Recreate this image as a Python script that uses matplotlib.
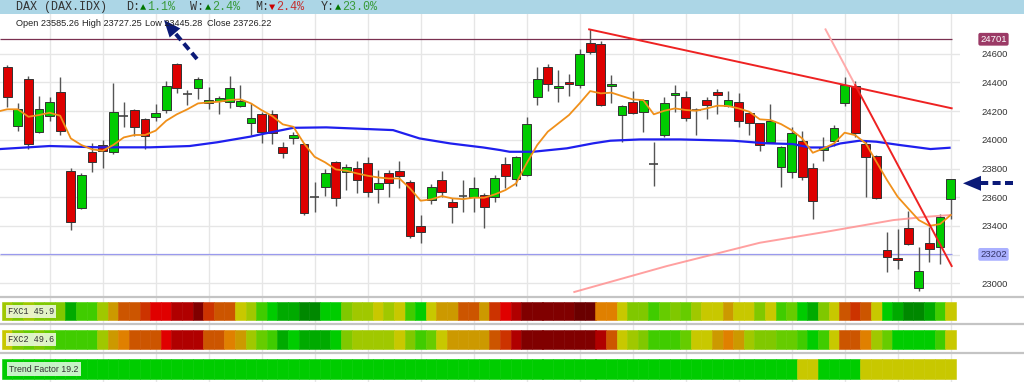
import matplotlib
matplotlib.use("Agg")
import matplotlib.pyplot as plt
from matplotlib.patches import Rectangle, Polygon
from matplotlib.lines import Line2D

# candles, last one from the OHLC line
opens = [24505, 24099, 24422, 24052, 24168, 24336, 23785, 23523, 23913, 23964,
         23913, 24166, 24208, 24145, 24161, 24208, 24528, 24317, 24364, 24259,
         24273, 24261, 24236, 24115, 24177, 24177, 23947, 24015, 23971, 23604,
         23669, 23847, 23773, 23801, 23836, 23655, 23766, 23782, 23708, 23401,
         23580, 23720, 23564, 23610, 23604, 23615, 23604, 23831, 23724, 23755,
         24296, 24505, 24361, 24401, 24382, 24672, 24665, 24375, 24173, 24261,
         24192, 23832, 24034, 24310, 24296, 24210, 24277, 24336, 24236, 24261,
         24185, 24115, 23987, 23808, 23778, 23992, 23801, 23929, 23994, 24254,
         24375, 23971, 23887, 23232, 23174, 23383, 22965, 23278, 23255, 23585.26]
closes = [24300, 24215, 23973, 24215, 24261, 24064, 23425, 23755, 23848, 23924,
          24192, 24166, 24087, 24029, 24185, 24377, 24359, 24317, 24422, 24278,
          24289, 24359, 24271, 24150, 24056, 24045, 23910, 24033, 23487, 23604,
          23766, 23597, 23808, 23720, 23634, 23696, 23701, 23750, 23332, 23360,
          23669, 23638, 23529, 23610, 23662, 23534, 23736, 23747, 23878, 24108,
          24422, 24387, 24377, 24387, 24596, 24614, 24243, 24389, 24236, 24185,
          24277, 23832, 24254, 24329, 24154, 24210, 24243, 24312, 24277, 24131,
          24120, 23964, 24133, 23947, 24045, 23738, 23576, 23947, 24084, 24382,
          24050, 23878, 23592, 23185, 23160, 23274, 23088, 23239, 23464, 23726.22]
highs = [24521, 24254, 24445, 24308, 24301, 24436, 23801, 23771, 23976, 23999,
         24394, 24266, 24217, 24154, 24250, 24412, 24533, 24347, 24440, 24366,
         24308, 24445, 24382, 24254, 24196, 24207, 23987, 24056, 23975, 23703,
         23794, 23852, 23829, 23854, 23882, 23789, 23789, 23852, 23720, 23476,
         23692, 23785, 23592, 23720, 23738, 23627, 23754, 23882, 23887, 24161,
         24505, 24528, 24487, 24456, 24633, 24770, 24689, 24452, 24243, 24340,
         24284, 23987, 24296, 24382, 24340, 24224, 24301, 24352, 24340, 24324,
         24196, 24120, 24249, 23957, 24091, 24061, 23836, 24017, 24103, 24440,
         24412, 23999, 23894, 23360, 23376, 23506, 23250, 23395, 23483, 23727.25]
lows = [24231, 24064, 23936, 24045, 24133, 24034, 23372, 23516, 23778, 23801,
        23899, 24092, 24027, 23936, 24133, 24185, 24324, 24243, 24285, 24213,
        24180, 24220, 24231, 24034, 23975, 23968, 23875, 23968, 23476, 23499,
        23608, 23541, 23650, 23627, 23599, 23557, 23599, 23662, 23313, 23278,
        23552, 23604, 23422, 23499, 23494, 23383, 23569, 23662, 23678, 23748,
        24243, 24340, 24266, 24305, 24359, 24598, 24238, 24259, 23987, 24180,
        24052, 23678, 24022, 24196, 24131, 24034, 24143, 24180, 24226, 24087,
        24034, 23922, 23975, 23669, 23731, 23720, 23446, 23852, 23957, 24235,
        24022, 23604, 23585, 23076, 23097, 23267, 22948, 23146, 23134, 23445.28]

# short moving average (orange), one value per candle, first at left edge
ma_short_start = 24201
ma_short = [24213, 24213, 24161, 24173, 24189, 24168, 24010, 23964, 23934, 23924,
            23964, 24017, 24034, 24034, 24064, 24133, 24178, 24213, 24254, 24261,
            24266, 24278, 24282, 24254, 24207, 24166, 24108, 24091, 23975, 23882,
            23843, 23794, 23785, 23766, 23750, 23738, 23731, 23731, 23662, 23576,
            23585, 23608, 23592, 23587, 23597, 23597, 23620, 23650, 23696, 23836,
            23964, 24057, 24115, 24173, 24254, 24340, 24324, 24329, 24305, 24282,
            24277, 24178, 24203, 24219, 24208, 24203, 24219, 24238, 24236, 24219,
            24196, 24143, 24138, 24110, 24068, 24010, 23910, 23940, 23975, 24050,
            24033, 23975, 23847, 23720, 23604, 23522, 23441, 23401, 23413, 23476]

# long moving average (blue)
ma_long_x = [-0.68, 4.0, 8.75, 13.5, 17.2, 19.8, 22.9, 23.9, 27.0, 30.1, 36.4,
             38.9, 41.8, 44.9, 46.5, 47.4, 49.6, 52.8, 55.3, 56.9, 59.7, 63.5,
             68.5, 71.6, 74.1, 75.7, 77.3, 78.6, 80.4, 82.0, 84.2, 87.1, 88.9]
ma_long = [23936, 23957, 23948, 23948, 23957, 23983, 24022, 24038, 24084, 24087,
           24068, 24010, 23975, 23947, 23929, 23917, 23917, 23941, 23976, 23994,
           24003, 24003, 23994, 23976, 23971, 23947, 23947, 23975, 23994, 23987,
           23964, 23936, 23945]

# very long moving average (pink)
ma_200_x = [53.5, 62.2, 71.0, 77.3, 83.6, 86.7, 89.0]
ma_200 = [22940, 23120, 23283, 23360, 23441, 23464, 23476]

# trend lines
trend_a_x = [54.9, 89.1]
trend_a = [24770, 24220]
trend_b_x = [77.2, 80.0, 89.1]
trend_b = [24770, 24382, 23121]

level_high = 24701
level_low = 23202

# indicator strips: colour level per candle (0 = deep green ... 15 = deep maroon)
palette = ["#008800", "#00aa00", "#00cc00", "#40cc00", "#66cc00", "#80c800",
           "#a0c800", "#c8c800", "#cc9900", "#e08000", "#cc5500", "#cc3300",
           "#e00000", "#b00000", "#800000", "#6a0000"]
fxc1 = [6, 5, 6, 5, 5, 5, 1, 3, 3, 6, 8, 10, 10, 11, 12, 12, 13, 13, 14, 11,
        10, 10, 7, 6, 3, 2, 1, 1, 0, 0, 2, 2, 5, 6, 6, 7, 6, 7, 3, 2,
        7, 8, 8, 10, 10, 8, 11, 12, 13, 14, 14, 14, 14, 14, 15, 15, 9, 9, 7, 5,
        5, 3, 4, 5, 4, 6, 7, 7, 8, 7, 7, 5, 7, 3, 4, 2, 1, 5, 7, 10,
        11, 10, 7, 2, 1, 0, 0, 1, 3, 7]
fxc2 = [7, 5, 4, 5, 4, 3, 3, 3, 3, 6, 8, 9, 10, 10, 10, 12, 13, 13, 13, 10,
        10, 9, 8, 6, 4, 3, 1, 2, 1, 1, 1, 2, 5, 6, 6, 6, 6, 7, 5, 3,
        4, 7, 8, 8, 8, 8, 10, 11, 13, 14, 14, 14, 14, 14, 14, 14, 13, 10, 7, 6,
        5, 3, 3, 3, 4, 7, 7, 8, 9, 8, 6, 5, 5, 4, 4, 3, 2, 3, 7, 10,
        10, 9, 6, 4, 2, 2, 2, 2, 3, 7]
trend_runs = [(2, 75), (7, 2), (2, 4), (7, 9)]
fxc1_label = "FXC1 45.9"
fxc2_label = "FXC2 49.6"
trend_label = "Trend Factor 19.2"

title = "DAX (DAX.IDX)"
changes = [("D", 1.1), ("W", 2.4), ("M", -2.4), ("Y", 23.0)]

W, H = 1024, 382
fig = plt.figure(figsize=(W / 100, H / 100), dpi=100)
fig.patch.set_facecolor("white")


def fx(px):
    return px / W


def fy(py):
    return 1 - py / H


n = len(opens)
xlim = (-7.2 / 10.6, (960 - 7.2) / 10.6)
grid_idx = list(range(4, n, 5))

# ---- price panel
ax = fig.add_axes([0, fy(296), 960 / W, (296 - 14) / H])
ax.set_xlim(*xlim)
ax.set_ylim(22912, 24877)
for s in ax.spines.values():
    s.set_visible(False)
ax.set_xticks([])
ax.yaxis.tick_right()
ticks = list(range(23000, 24601, 200))
ax.set_yticks(ticks)
ax.set_yticklabels([str(t) for t in ticks], family="Liberation Sans")
ax.tick_params(axis="y", length=0, pad=15.8, labelsize=6.8, labelcolor="#333333")
for t in ticks:
    ax.axhline(t, color="#e6e6e6", lw=1, zorder=0)
for g in grid_idx:
    ax.axvline(g, color="#e6e6e6", lw=1, zorder=0)

for i in range(n):
    o, h, l, c = opens[i], highs[i], lows[i], closes[i]
    ax.vlines(i, l, h, color="#555555", lw=1, zorder=3)
    if o == c:
        ax.hlines(o, i - 0.42, i + 0.42, color="#444444", lw=1.2, zorder=4)
    else:
        col = "#00cc00" if c > o else "#dd0000"
        ax.add_patch(Rectangle((i - 0.42, min(o, c)), 0.84, abs(c - o),
                               facecolor=col, edgecolor="#333333", lw=0.7, zorder=4))

ax.hlines(level_high, xlim[0], 89.1, color="#7a3050", lw=0.9, zorder=2)
ax.hlines(level_low, xlim[0], 89.1, color="#9a9aee", lw=0.9, zorder=2)

ax.plot(ma_200_x, ma_200, color="#ff9090", lw=1.4, alpha=0.85, zorder=5)
ax.plot(ma_long_x, ma_long, color="#1f1fee", lw=1.6, zorder=5)
ax.plot([xlim[0]] + list(range(n)), [ma_short_start] + ma_short,
        color="#f0901a", lw=1.3, zorder=6)
ax.plot(trend_a_x, trend_a, color="#ee2222", lw=1.4, zorder=6)
ax.plot(trend_b_x[:2], trend_b[:2], color="#ffaaaa", lw=1.4, zorder=6)
ax.plot(trend_b_x[1:], trend_b[1:], color="#ee2222", lw=1.4, zorder=6)

ytr = ax.get_yaxis_transform()
ax.text(993.5 / 960, level_high, str(level_high), transform=ytr, ha="center",
        va="center", fontsize=6.8, family="Liberation Sans", color="white",
        clip_on=False, bbox=dict(boxstyle="round,pad=0.2", fc="#9b3a66", ec="none"))
ax.text(993.5 / 960, level_low, str(level_low), transform=ytr, ha="center",
        va="center", fontsize=6.8, family="Liberation Sans", color="#333366",
        clip_on=False, bbox=dict(boxstyle="round,pad=0.2", fc="#aab0ff", ec="none"))

# ---- indicator strips
bax = fig.add_axes([0, 0, 960 / W, 86 / H])
bax.set_xlim(*xlim)
bax.set_ylim(382, 296)
bax.axis("off")
for g in grid_idx:
    bax.axvline(g, color="#e6e6e6", lw=1, zorder=0)
idx = list(range(n))
trend = []
for code, cnt in trend_runs:
    trend += [code] * cnt
rows = [(fxc1, 302.3, 17.3), (fxc2, 330.0, 18.5), (trend, 358.5, 20.0)]
for codes, top, hgt in rows:
    cols = [palette[k] for k in codes]
    bax.bar(idx, hgt, bottom=top, width=1.0, color=cols, edgecolor=cols,
            lw=0.4, zorder=2)

for yy in (296.7, 324.3, 353.3):
    fig.add_artist(Line2D([0, 1], [fy(yy), fy(yy)], transform=fig.transFigure,
                          color="#c4c4c4", lw=1.6))

box = dict(boxstyle="square,pad=0.25", fc="white", ec="none", alpha=0.78)
fig.text(fx(8), fy(311.5), fxc1_label, family="Liberation Mono", fontsize=6.2,
         color="#333333", va="center", bbox=box)
fig.text(fx(8), fy(339.3), fxc2_label, family="Liberation Mono", fontsize=6.2,
         color="#333333", va="center", bbox=box)
fig.text(fx(9), fy(369), trend_label, family="Liberation Sans", fontsize=6.3,
         color="#333333", va="center", bbox=box)

# ---- header
fig.add_artist(Rectangle((0, fy(13.5)), 1, 13.5 / H, transform=fig.transFigure,
                         facecolor="#acd6e6", edgecolor="none"))
mono = ["Liberation Mono", "DejaVu Sans Mono"]
fig.text(fx(16), fy(7), title, family=mono, fontsize=8.5, color="#333333", va="center")
hx = 126
for lab, val in changes:
    up = val >= 0
    fig.text(fx(hx), fy(7), lab + ":", family=mono, fontsize=8.5, color="#333333",
             va="center")
    fig.text(fx(hx + 14.0), fy(7.3), "\u25b2" if up else "\u25bc", family=mono,
             fontsize=7.5, color="#007700" if up else "#cc0000", va="center")
    fig.text(fx(hx + 21.3), fy(7), f"{abs(val):.1f}%", family=mono, fontsize=8.5,
             color="#3a9a3a" if up else "#c43030", va="center")
    hx += 64.5 + (1 if lab == "M" else 0)

ohlc = [("Open", opens[-1], 15.7), ("High", highs[-1], 81.7),
        ("Low", lows[-1], 145), ("Close", closes[-1], 206.7)]
for lab, v, px in ohlc:
    fig.text(fx(px), fy(23.3), f"{lab} {v:.2f}", family="Liberation Sans",
             fontsize=6.6, color="#222222", va="center")


# ---- dashed arrows
def arrow(tail, tip, head_len, head_half, lw_px):
    dx, dy = tip[0] - tail[0], tip[1] - tail[1]
    L = (dx * dx + dy * dy) ** 0.5
    ux, uy = dx / L, dy / L
    bx, by = tip[0] - ux * head_len, tip[1] - uy * head_len
    ln = Line2D([fx(tail[0]), fx(bx)], [fy(tail[1]), fy(by)], transform=fig.transFigure,
                color="#0b1a78", lw=lw_px / 1.389, solid_capstyle="butt",
                dash_capstyle="butt")
    ln.set_dashes((2.0, 1.1))
    fig.add_artist(ln)
    pts = [(tip[0], tip[1]), (bx - uy * head_half, by + ux * head_half),
           (bx + uy * head_half, by - ux * head_half)]
    fig.add_artist(Polygon([(fx(p[0]), fy(p[1])) for p in pts], closed=True,
                           transform=fig.transFigure, facecolor="#0b1a78",
                           edgecolor="none"))


arrow((1013, 183.3), (963, 183.3), 18, 7.5, 4)
arrow((197, 59), (164, 20), 17, 7, 4)

fig.savefig("out.png", dpi=100)
